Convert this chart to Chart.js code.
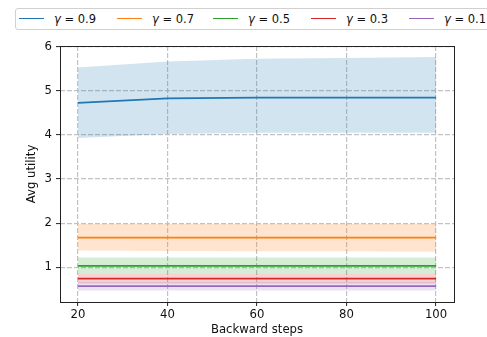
<!DOCTYPE html>
<html><head><meta charset="utf-8">
<script src="https://cdn.jsdelivr.net/npm/chart.js@4/dist/chart.umd.min.js"></script>
<style>
html,body{margin:0;padding:0;background:#fff;}
#wrap{position:relative;width:487px;height:337px;overflow:hidden;}
canvas{position:absolute;left:0;top:0;}
#legend{position:absolute;left:15px;top:8px;width:490px;height:22px;border:1px solid #d0d0d0;border-radius:3px;box-sizing:border-box;background:#fff;font-family:"DejaVu Sans";font-size:11.5px;color:#111;}
.li{position:absolute;top:0;height:21px;}
.ln{position:absolute;top:9px;width:25px;height:0;border-top:1.5px solid;}
.tx{position:absolute;top:3px;left:35px;white-space:nowrap;}
</style></head>
<body><div id="wrap"><canvas id="c" width="487" height="337"></canvas><div id="legend"></div></div>
<script>
const steps = [20, 40, 60, 80, 100];
const seriesLabels = ['0.9', '0.7', '0.5', '0.3', '0.1'];
const colors = ['#1f77b4', '#ff7f0e', '#2ca02c', '#d62728', '#9467bd'];
const fills = ['rgba(31,119,180,0.2)', 'rgba(255,127,14,0.2)', 'rgba(44,160,44,0.2)', 'rgba(214,39,40,0.2)', 'rgba(148,103,189,0.2)'];

const mean09 = [4.73, 4.83, 4.85, 4.85, 4.85];
const upper09 = [5.53, 5.67, 5.73, 5.75, 5.77];
const lower09 = [3.93, 4.02, 4.05, 4.05, 4.05];

const mean07 = [1.67, 1.67, 1.67, 1.67, 1.67];
const upper07 = [1.98, 1.98, 1.98, 1.98, 1.98];
const lower07 = [1.38, 1.37, 1.36, 1.36, 1.35];

const mean05 = [1.03, 1.03, 1.03, 1.03, 1.03];
const upper05 = [1.22, 1.22, 1.22, 1.22, 1.22];
const lower05 = [0.86, 0.86, 0.86, 0.86, 0.86];

const mean03 = [0.74, 0.74, 0.74, 0.74, 0.74];
const upper03 = [0.86, 0.86, 0.86, 0.86, 0.86];
const lower03 = [0.63, 0.63, 0.63, 0.63, 0.63];

const mean01 = [0.57, 0.57, 0.57, 0.57, 0.57];
const upper01 = [0.67, 0.67, 0.67, 0.67, 0.67];
const lower01 = [0.47, 0.47, 0.47, 0.47, 0.47];

const yTicks = [1, 2, 3, 4, 5, 6];
const xTicks = [20, 40, 60, 80, 100];

const means = [mean09, mean07, mean05, mean03, mean01];
const uppers = [upper09, upper07, upper05, upper03, upper01];
const lowers = [lower09, lower07, lower05, lower03, lower01];

const pts = arr => steps.map((s, i) => ({x: s, y: arr[i]}));
const datasets = [];
for (let k = 0; k < 5; k++) {
  datasets.push({label: 'up' + k, data: pts(uppers[k]), borderWidth: 0, borderColor: 'rgba(0,0,0,0)', pointRadius: 0, backgroundColor: fills[k], fill: '+1', order: 10 + k, tension: 0});
  datasets.push({label: 'lo' + k, data: pts(lowers[k]), borderWidth: 0, borderColor: 'rgba(0,0,0,0)', pointRadius: 0, fill: false, order: 10 + k});
}
for (let k = 0; k < 5; k++) {
  datasets.push({label: 'γ = ' + seriesLabels[k], data: pts(means[k]), borderColor: colors[k], borderWidth: 1.7, pointRadius: 0, fill: false, order: k, tension: 0});
}

// legend
const lg = document.getElementById('legend');
const legX = [3, 101, 197, 295, 393];
seriesLabels.forEach((l, k) => {
  const d = document.createElement('div');
  d.className = 'li'; d.style.left = legX[k] + 'px';
  d.innerHTML = '<div class="ln" style="border-color:' + colors[k] + '"></div><div class="tx"><i>γ</i> = ' + l + '</div>';
  lg.appendChild(d);
});

const frame = {
  id: 'frame',
  afterDatasetsDraw(chart) {
    const a = chart.chartArea, ctx = chart.ctx;
    ctx.save();
    ctx.strokeStyle = '#222';
    ctx.lineWidth = 1;
    ctx.strokeRect(Math.round(a.left) + 0.5, Math.round(a.top) + 0.5, Math.round(a.right - a.left), Math.round(a.bottom - a.top));
    ctx.restore();
  }
};

const font = {family: 'DejaVu Sans', size: 11.7};
new Chart(document.getElementById('c'), {
  type: 'line',
  data: {datasets},
  plugins: [frame],
  options: {
    responsive: false, animation: false,
    layout: {padding: {top: 46, right: 33, left: 0, bottom: 0}},
    plugins: {legend: {display: false}, tooltip: {enabled: false}},
    scales: {
      x: {
        type: 'linear', min: 16, max: 104,
        afterFit(s) { s.height = 35; },
        afterBuildTicks(s) { s.ticks = xTicks.map(v => ({value: v})); },
        ticks: {font, color: '#111', padding: 2, includeBounds: false, maxRotation: 0},
        grid: {color: '#c2c2c2', borderDash: [5, 2], lineWidth: 1.2, tickLength: 4, tickColor: '#222', tickBorderDash: [], tickWidth: 1},
        border: {display: false, dash: [5, 2]},
        title: {display: true, text: 'Backward steps', font, color: '#111', padding: {top: 0, bottom: 0}}
      },
      y: {
        min: 0.21, max: 6.02,
        afterFit(s) { s.width = 60; },
        afterBuildTicks(s) { s.ticks = yTicks.map(v => ({value: v})); },
        ticks: {font, color: '#111', padding: 4, includeBounds: false},
        grid: {color: '#c2c2c2', borderDash: [5, 2], lineWidth: 1.2, tickLength: 4, tickColor: '#222', tickBorderDash: [], tickWidth: 1},
        border: {display: false, dash: [5, 2]},
        title: {display: true, text: 'Avg utility', font, color: '#111', padding: {top: 25, bottom: 0}}
      }
    }
  }
});
</script></body></html>
